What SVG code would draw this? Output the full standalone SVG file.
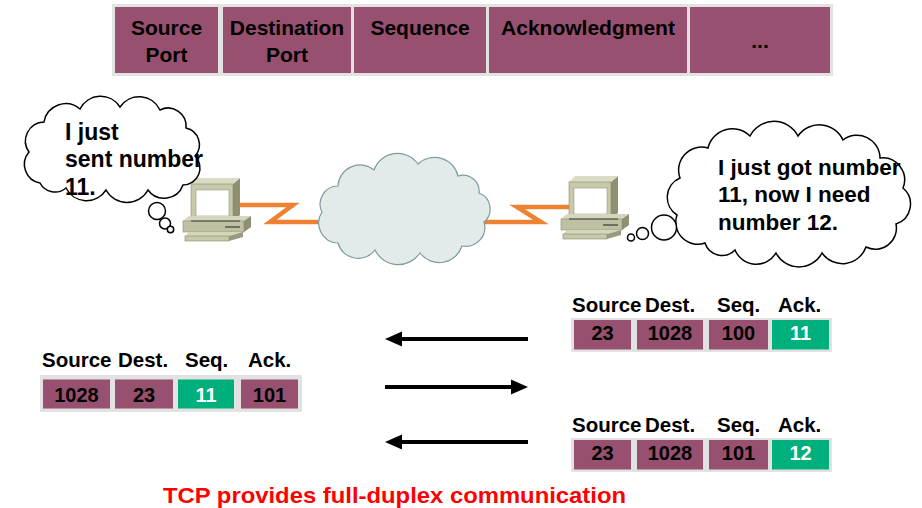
<svg xmlns="http://www.w3.org/2000/svg" xmlns:xlink="http://www.w3.org/1999/xlink" width="922" height="508" viewBox="0 0 922 508">
  <style>
    text { font-family: "Liberation Sans", Arial, sans-serif; font-weight: bold; }
    .hdr { font-size: 21px; fill: #000; text-anchor: middle; }
    .lbl { font-size: 20.5px; fill: #000; }
    .val { font-size: 20px; fill: #000; text-anchor: middle; }
    .valw { font-size: 20px; fill: #fff; text-anchor: middle; }
    .say { font-size: 22.5px; fill: #000; }
    .tray { fill: #e2e2e2; }
    .cell { fill: #97506f; }
    .hit { fill: #00b07c; }
    .bubble { fill: #fff; stroke: #000; stroke-width: 1.5; }
    .net { fill: #e3eaea; stroke: #7e9ca1; stroke-width: 1.2; }
    .link { fill: none; stroke: #ee8232; stroke-width: 4.5; stroke-linejoin: miter; }
    .flow { stroke: #000; stroke-width: 4; marker-end: url(#head); }
  </style>
  <defs>
    <marker id="head" markerWidth="18" markerHeight="18" refX="9" refY="9" orient="auto" markerUnits="userSpaceOnUse">
      <path d="M0,1.5 L17,9 L0,16.5 Z" fill="#000"/>
    </marker>
    <!-- desktop PC icon, drawn at the left host position -->
    <g id="pc">
      <polygon points="233,184 240,178 240,215 233,221" fill="#8f8f72"/>
      <polygon points="191,184 197,178 240,178 233,184" fill="#dcdcc6"/>
      <rect x="191" y="184" width="42" height="37" fill="#c8c8aa" stroke="#8a8a6e" stroke-width="0.6"/>
      <rect x="196" y="190" width="33" height="26" fill="#fff" stroke="#9a9a80" stroke-width="0.6"/>
      <polygon points="183,221 189,216 251,216 244,221" fill="#d6d6be"/>
      <polygon points="244,221 251,216 251,227 244,232" fill="#8f8f72"/>
      <rect x="183" y="221" width="61" height="11" fill="#c0c0a2" stroke="#8a8a6e" stroke-width="0.6"/>
      <line x1="191" y1="221" x2="240" y2="221" stroke="#3a3a30" stroke-width="1.2"/>
      <line x1="225" y1="227" x2="240" y2="227" stroke="#555548" stroke-width="1.5"/>
      <polygon points="189,232 243,232 229,236 185,236" fill="#d6d6be"/>
      <polygon points="229,236 243,232 243,237 229,241" fill="#9a9a7c"/>
      <rect x="185" y="236" width="44" height="5" fill="#c8c8aa" stroke="#8a8a6e" stroke-width="0.6"/>
    </g>
  </defs>

  <!-- TCP header field strip -->
  <g id="header">
    <rect class="tray" x="112" y="4" width="721" height="72"/>
    <rect class="cell" x="115" y="7" width="103" height="66"/>
    <rect class="cell" x="223" y="7" width="128" height="66"/>
    <rect class="cell" x="354" y="7" width="132" height="66"/>
    <rect class="cell" x="489" y="7" width="198" height="66"/>
    <rect class="cell" x="690" y="7" width="140" height="66"/>
    <text class="hdr" x="166.5" y="35">Source</text>
    <text class="hdr" x="166.5" y="61.5">Port</text>
    <text class="hdr" x="287" y="35">Destination</text>
    <text class="hdr" x="287" y="61.5">Port</text>
    <text class="hdr" x="420" y="35">Sequence</text>
    <text class="hdr" x="588" y="35">Acknowledgment</text>
    <text class="hdr" x="760" y="48">...</text>
  </g>

  <!-- links and segment flow arrows -->
  <g id="connectors">
    <polyline class="link" points="240,205 293,205 270,222 325,222"/>
    <polyline class="link" points="480,222 541,222 517,207 572,207"/>
    <line class="flow" x1="528" y1="339" x2="393" y2="339"/>
    <line class="flow" x1="385" y1="387" x2="520" y2="387"/>
    <line class="flow" x1="528" y1="442" x2="393" y2="442"/>
  </g>

  <g id="internet">
    <path class="net" d="M338,243 A20 20 0 0 1 322,212 A18 18 0 0 1 338,186 A22 22 0 0 1 374,170 A25 25 0 0 1 418,164 A24 24 0 0 1 458,176 A16 16 0 0 1 479,193 A17 17 0 0 1 484,222 A19 19 0 0 1 462,246 A24 24 0 0 1 420,253 A26 26 0 0 1 375,250 A21 21 0 0 1 338,243 Z"/>
  </g>

  <g id="host-left">
    <use xlink:href="#pc" href="#pc"/>
  </g>
  <g id="host-right">
    <use xlink:href="#pc" href="#pc" transform="translate(378,-2)"/>
  </g>

  <g id="thought-left">
    <path class="bubble" d="M40,183 A19 19 0 0 1 29,152 A19 19 0 0 1 44,122 A22 22 0 0 1 80,109 A23 23 0 0 1 120,107 A23 23 0 0 1 160,110 A18 18 0 0 1 186,128 A17 17 0 0 1 195,156 A17 17 0 0 1 183,185 A20 20 0 0 1 148,190 A24 24 0 0 1 106,190 A23 23 0 0 1 66,188 A17 17 0 0 1 40,183 Z"/>
    <circle class="bubble" cx="157" cy="211" r="8.5"/>
    <circle class="bubble" cx="165" cy="223.5" r="5.5"/>
    <circle class="bubble" cx="170.5" cy="229.5" r="3.2"/>
    <text class="say" x="65" y="140" style="font-size:23px">I just</text>
    <text class="say" x="65" y="167" style="font-size:23px">sent number</text>
    <text class="say" x="65" y="195" style="font-size:23px">11.</text>
  </g>

  <g id="thought-right">
    <path class="bubble" d="M705,243 A22 22 0 0 1 677,215 A21 21 0 0 1 680,178 A23 23 0 0 1 708,148 A25 25 0 0 1 750,136 A27 27 0 0 1 798,136 A26 26 0 0 1 843,140 A23 23 0 0 1 880,158 A22 22 0 0 1 903,188 A21 21 0 0 1 896,224 A21 21 0 0 1 866,247 A25 25 0 0 1 822,253 A26 26 0 0 1 776,253 A23 23 0 0 1 735,250 A18 18 0 0 1 705,243 Z"/>
    <circle class="bubble" cx="664" cy="227.5" r="12.5"/>
    <circle class="bubble" cx="642.5" cy="233.5" r="6"/>
    <circle class="bubble" cx="631" cy="237.5" r="3.5"/>
    <text class="say" x="718" y="175">I just got number</text>
    <text class="say" x="718" y="202">11, now I need</text>
    <text class="say" x="718" y="230">number 12.</text>
  </g>

  <!-- segment sent by the left host -->
  <g id="segment-left">
    <text class="lbl" x="42" y="367">Source</text>
    <text class="lbl" x="118" y="367">Dest.</text>
    <text class="lbl" x="185" y="367">Seq.</text>
    <text class="lbl" x="248" y="367">Ack.</text>
    <rect class="tray" x="40" y="375" width="262" height="37"/>
    <rect class="cell" x="43" y="379.5" width="67" height="29"/>
    <rect class="cell" x="115" y="379.5" width="58" height="29"/>
    <rect class="hit" x="178" y="379.5" width="56" height="29"/>
    <rect class="cell" x="241" y="379.5" width="57" height="29"/>
    <text class="val" x="76.5" y="402">1028</text>
    <text class="val" x="144" y="402">23</text>
    <text class="valw" x="206" y="402">11</text>
    <text class="val" x="269.5" y="402">101</text>
  </g>

  <!-- first reply from the right host -->
  <g id="segment-right-1">
    <text class="lbl" x="572" y="312">Source</text>
    <text class="lbl" x="645" y="312">Dest.</text>
    <text class="lbl" x="717" y="312">Seq.</text>
    <text class="lbl" x="778" y="312">Ack.</text>
    <rect class="tray" x="571" y="318" width="261" height="34"/>
    <rect class="cell" x="574" y="320" width="57" height="29.5"/>
    <rect class="cell" x="637" y="320" width="66" height="29.5"/>
    <rect class="cell" x="709" y="320" width="59" height="29.5"/>
    <rect class="hit" x="772" y="320" width="57" height="29.5"/>
    <text class="val" x="602.5" y="340">23</text>
    <text class="val" x="670" y="340">1028</text>
    <text class="val" x="738.5" y="340">100</text>
    <text class="valw" x="800.5" y="340">11</text>
  </g>

  <!-- second reply from the right host -->
  <g id="segment-right-2">
    <text class="lbl" x="572" y="432">Source</text>
    <text class="lbl" x="645" y="432">Dest.</text>
    <text class="lbl" x="717" y="432">Seq.</text>
    <text class="lbl" x="778" y="432">Ack.</text>
    <rect class="tray" x="571" y="438" width="261" height="34"/>
    <rect class="cell" x="574" y="440" width="57" height="29.5"/>
    <rect class="cell" x="637" y="440" width="66" height="29.5"/>
    <rect class="cell" x="709" y="440" width="59" height="29.5"/>
    <rect class="hit" x="772" y="440" width="57" height="29.5"/>
    <text class="val" x="602.5" y="460">23</text>
    <text class="val" x="670" y="460">1028</text>
    <text class="val" x="738.5" y="460">101</text>
    <text class="valw" x="800.5" y="460">12</text>
  </g>

  <g id="caption">
    <text x="163" y="503" fill="#ff0000" style="font-size:22px" textLength="463" lengthAdjust="spacingAndGlyphs">TCP provides full-duplex communication</text>
  </g>
</svg>
